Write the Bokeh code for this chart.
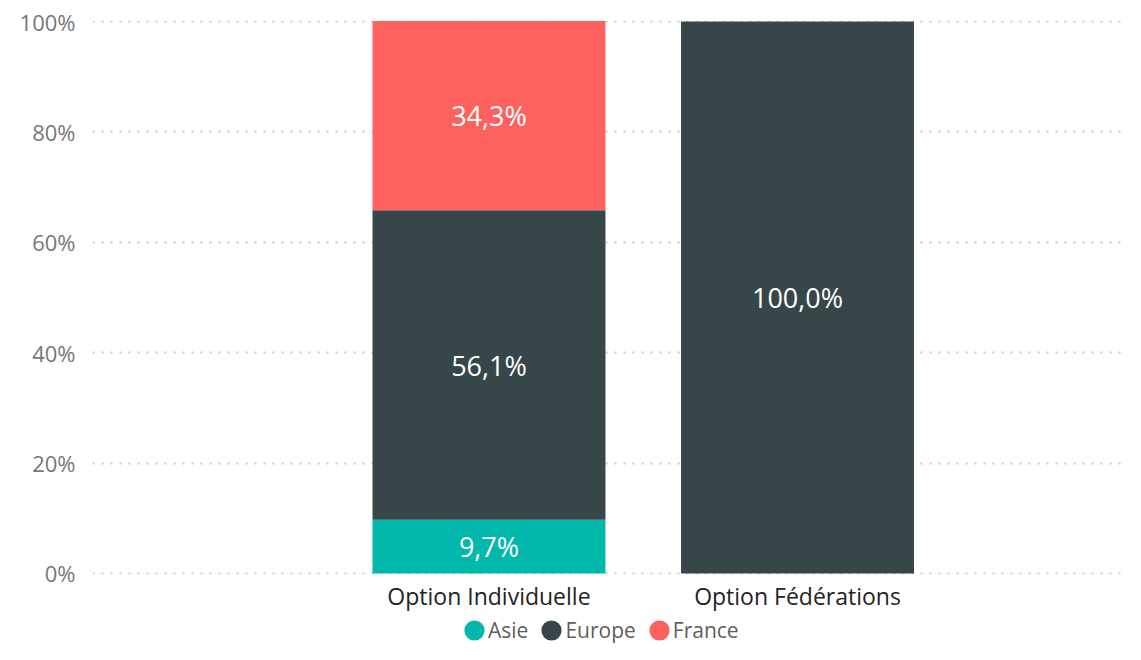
import numpy as np
from bokeh.plotting import figure
from bokeh.layouts import column
from bokeh.models import (ColumnDataSource, Range1d, FixedTicker, PrintfTickFormatter,
                          Legend, LegendItem)
from bokeh.core.properties import value
from bokeh.embed import file_html
from bokeh.resources import INLINE

categories = ["Option Individuelle", "Option Fédérations"]
series = ["Asie", "Europe", "France"]
asie = [9.7, 0.0]
europe = [56.1, 100.0]
france = [34.3, 0.0]
colors = ["#01B8AA", "#374649", "#FD625E"]
y_ticks = [0, 20, 40, 60, 80, 100]

FONT = "Open Sans"

x = list(range(len(categories)))
data = {"x": x, "Asie": asie, "Europe": europe, "France": france}
source = ColumnDataSource(data)

p = figure(width=1125, height=616, output_backend="svg", toolbar_location=None,
           x_range=Range1d(-1.285, 2.063), y_range=Range1d(-0.2, 100.2),
           min_border_left=92, min_border_right=0, min_border_top=20,
           min_border_bottom=42)
p.outline_line_color = None
p.background_fill_color = "white"
p.border_fill_color = "white"

p.vbar_stack(series, x="x", width=0.755, color=colors, line_color=None, source=source)

# data labels
vals = np.array([asie, europe, france])
tops = np.cumsum(vals, axis=0)
bottoms = tops - vals
lx, ly, lt = [], [], []
for si in range(len(series)):
    for ci in range(len(categories)):
        v = vals[si, ci]
        if v > 0:
            lx.append(x[ci])
            ly.append((tops[si, ci] + bottoms[si, ci]) / 2)
            lt.append(f"{v:.1f}".replace(".", ",") + "%")
p.text(x=lx, y=ly, text=lt, text_color="white", text_align="center",
       text_baseline="middle", text_font=value(FONT), text_font_size="27px")

# axes
p.xaxis.ticker = FixedTicker(ticks=x)
p.xaxis.major_label_overrides = {i: c for i, c in zip(x, categories)}
p.xaxis.axis_line_color = None
p.xaxis.major_tick_line_color = None
p.xaxis.minor_tick_line_color = None
p.xaxis.major_tick_out = 0
p.xaxis.major_label_text_font = FONT
p.xaxis.major_label_text_font_size = "23px"
p.xaxis.major_label_text_color = "#252423"
p.xaxis.major_label_standoff = 5

p.yaxis.ticker = FixedTicker(ticks=y_ticks)
p.yaxis.formatter = PrintfTickFormatter(format="%d%%")
p.yaxis.axis_line_color = None
p.yaxis.major_tick_line_color = None
p.yaxis.minor_tick_line_color = None
p.yaxis.major_tick_out = 0
p.yaxis.major_label_text_font = FONT
p.yaxis.major_label_text_font_size = "22px"
p.yaxis.major_label_text_color = "#777777"
p.yaxis.major_label_standoff = 17

p.xgrid.grid_line_color = None
p.ygrid.grid_line_color = "#c8c8c8"
p.ygrid.grid_line_dash = "2 7"
p.ygrid.grid_line_width = 2

# legend figure with circle markers
lf = figure(width=1125, height=28, output_backend="svg", toolbar_location=None,
            x_range=Range1d(0, 1), y_range=Range1d(0, 1),
            x_axis_location=None, y_axis_location=None,
            min_border=0, min_border_left=0, min_border_right=0,
            min_border_top=0, min_border_bottom=0)
lf.outline_line_color = None
lf.grid.grid_line_color = None
items = []
for name, col in zip(series, colors):
    r = lf.scatter(x=[0.5], y=[float("nan")], marker="circle", size=11,
                   fill_color=col, line_color=col, line_width=9)
    items.append(LegendItem(label=name, renderers=[r]))
legend = Legend(items=items, orientation="horizontal", location=(368, 0),
                glyph_width=28, glyph_height=28, label_standoff=-2, spacing=9,
                padding=0, margin=0, border_line_color=None,
                background_fill_alpha=0, label_text_font=FONT,
                label_text_font_size="21px", label_text_color="#605E5C",
                label_text_baseline="middle")
lf.add_layout(legend, "center")

layout = column(p, lf, spacing=0)
open("out.html", "w").write(file_html(layout, INLINE))
